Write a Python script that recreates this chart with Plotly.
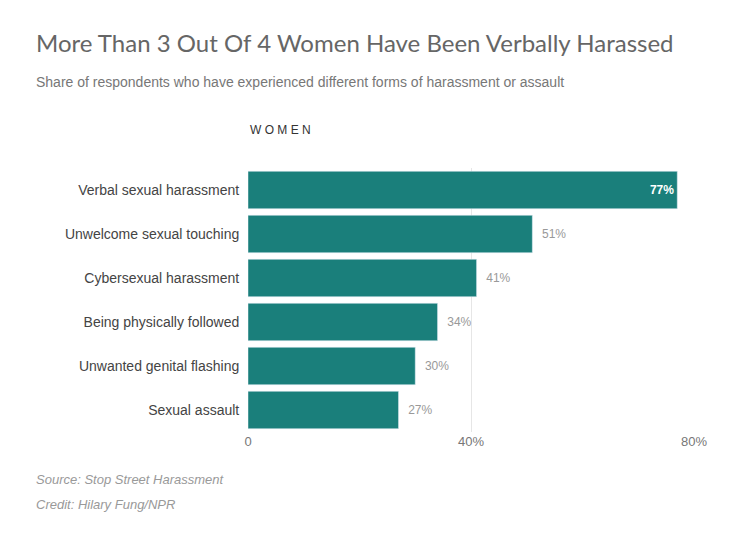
import plotly.graph_objects as go

categories = ["Verbal sexual harassment", "Unwelcome sexual touching", "Cybersexual harassment",
              "Being physically followed", "Unwanted genital flashing", "Sexual assault"]
values = [77, 51, 41, 34, 30, 27]
tick_vals = [0, 40, 80]
tick_text = ["0", "40%", "80%"]

teal = "#1a7f7b"
L, R, T, B = 240, 49, 160, 116
PW, PH = 735 - L - R, 540 - T - B

fig = go.Figure(go.Bar(
    x=values, y=categories, orientation="h", marker_color=teal,
    text=[f"<b>{values[0]}%</b>"] + [f"  {v}%" for v in values[1:]],
    textposition=["inside"] + ["outside"] * 5,
    insidetextanchor="end",
    textfont=dict(size=12, family="Liberation Sans"),
    outsidetextfont=dict(color="#999999", size=12),
    insidetextfont=dict(color="white", size=12),
    cliponaxis=False,
))

fig.update_layout(
    width=735, height=540, plot_bgcolor="white", paper_bgcolor="white",
    margin=dict(l=L, r=R, t=T, b=B),
    font=dict(family="Liberation Sans", color="#555555"),
    bargap=0.15, showlegend=False,
    xaxis=dict(range=[0, 80], tickvals=tick_vals, ticktext=tick_text, showgrid=True,
               gridcolor="#e6e6e6", zeroline=False, tickfont=dict(size=13, color="#777777"),
               showline=False, ticks=""),
    yaxis=dict(autorange="reversed", tickfont=dict(size=14, color="#444444"),
               ticksuffix="  ", ticks=""),
)

def pos(px_, py_):
    return (px_ - 8 - L) / PW, (540 - B - (py_ - 8)) / PH

allt = [
    ("More Than 3 Out Of 4 Women Have Been Verbally Harassed", 34, 42, 24, "#666666", False, "Lato"),
    ("Share of respondents who have experienced different forms of harassment or assault", 34, 82, 14, "#777777", False, "Liberation Sans"),
    ("Source: Stop Street Harassment", 34, 479, 13, "#999999", True, "Liberation Sans"),
    ("Credit: Hilary Fung/NPR", 34, 505, 13, "#999999", True, "Liberation Sans"),
    ("W O M E N", 248, 130, 12, "#333333", False, "Liberation Sans"),
]
for t, px_, py_, sz, col, it, fam in allt:
    x, y = pos(px_, py_)
    fig.add_annotation(text=f"<i>{t}</i>" if it else t, x=x, y=y,
                       xref="paper", yref="paper", showarrow=False, xanchor="left", yanchor="middle",
                       font=dict(size=sz, color=col, family=fam))
fig.write_html("out.html")
